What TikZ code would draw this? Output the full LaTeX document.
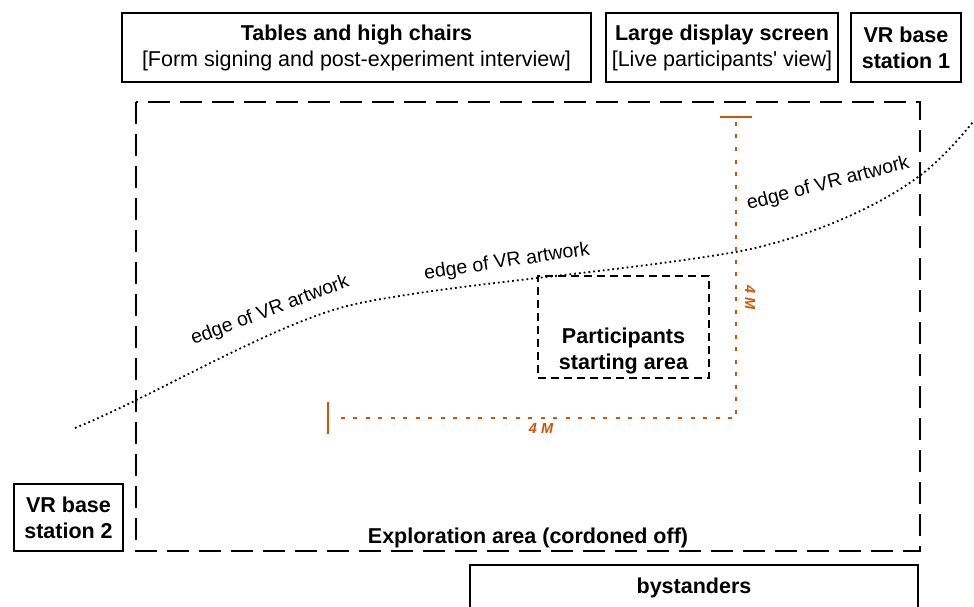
\documentclass[tikz,border=0pt]{standalone}
\usepackage{fontspec}
\setmainfont{Liberation Sans}[Ligatures=TeXOff]
\definecolor{dimorange}{RGB}{208,84,4}
\begin{document}
\begin{tikzpicture}[x=1pt,y=-1pt,
  box/.style={draw=black,line width=1.6pt,inner sep=0pt,align=center,
    font=\fontsize{21.5}{26}\selectfont},
  edgelabel/.style={font=\fontsize{19.5}{22}\selectfont,inner sep=0pt},
  dimlabel/.style={text=dimorange,font=\fontsize{14.5}{16}\selectfont\bfseries\itshape,inner sep=0pt},
  dimline/.style={draw=dimorange,line width=2pt,dash pattern=on 4pt off 8.5pt},
  dimtick/.style={draw=dimorange,line width=2.2pt}]
\useasboundingbox (0,0) rectangle (974,607);
% top boxes
\node[box,minimum width=469pt,minimum height=69pt] (tables) at (356.5,47.5)
  {\textbf{Tables and high chairs}\\{}[Form signing and post-experiment interview]};
\node[box,minimum width=232pt,minimum height=69pt] (screen) at (722,47.5)
  {\textbf{Large display screen}\\{}[Live participants' view]};
\node[box,minimum width=110pt,minimum height=69pt] (vr1) at (906,47.5)
  {\textbf{VR base}\\\textbf{station 1}};
% exploration area
\draw[line width=1.8pt,dash pattern=on 22pt off 10pt] (136,102) rectangle (920,551);
\node[font=\fontsize{21.5}{26}\selectfont\bfseries,inner sep=0pt] (explore) at (528,538) {Exploration area (cordoned off)};
% VR base station 2
\node[box,minimum width=109pt,minimum height=67pt] (vr2) at (68.5,517.5)
  {\textbf{VR base}\\\textbf{station 2}};
% bystanders
\draw[line width=1.6pt] (470,620) -- (470,565) -- (918,565) -- (918,620);
\node[font=\fontsize{21.5}{26}\selectfont\bfseries,inner sep=0pt] (bystanders) at (694,588) {bystanders};
% participants starting area
\node[draw=black,line width=1.6pt,dash pattern=on 8pt off 5pt,minimum width=171pt,minimum height=102pt,inner sep=0pt] (start) at (623.5,327) {};
\node[font=\fontsize{21.5}{26}\selectfont\bfseries,align=center,inner sep=0pt] (startlbl) at (623.5,351) {Participants\\starting area};
% curve
\coordinate (c0) at (75,428);
\coordinate (c1) at (360,303);
\coordinate (c2) at (730,253);
\coordinate (c3) at (918,177);
\coordinate (c4) at (973,122);
\draw[line width=1.8pt,dash pattern=on 1.8pt off 3pt]
  (c0) .. controls (155,396) and (280,319) .. (c1)
       .. controls (460,283) and (610,273) .. (c2)
       .. controls (790,243) and (868,214) .. (c3)
       .. controls (936,164) and (955,144) .. (c4);
\node[edgelabel,rotate=20.5] (e1) at (270,311) {edge of VR artwork};
\node[edgelabel,rotate=8.4] (e2) at (507,262) {edge of VR artwork};
\node[edgelabel,rotate=14.6] (e3) at (828,184) {edge of VR artwork};
% dimensions
\coordinate (ttop) at (736,122);
\coordinate (corner) at (736,418);
\coordinate (tleft) at (333,418);
\draw[dimline] (ttop) -- (corner) -- (tleft);
\draw[dimtick] (720,117) -- (752,117);
\draw[dimtick] (328,402) -- (328,434);
\node[dimlabel] (d1) at (541,429) {4 M};
\node[dimlabel,rotate=-90] (d2) at (750,298) {4 M};
\end{tikzpicture}
\end{document}
